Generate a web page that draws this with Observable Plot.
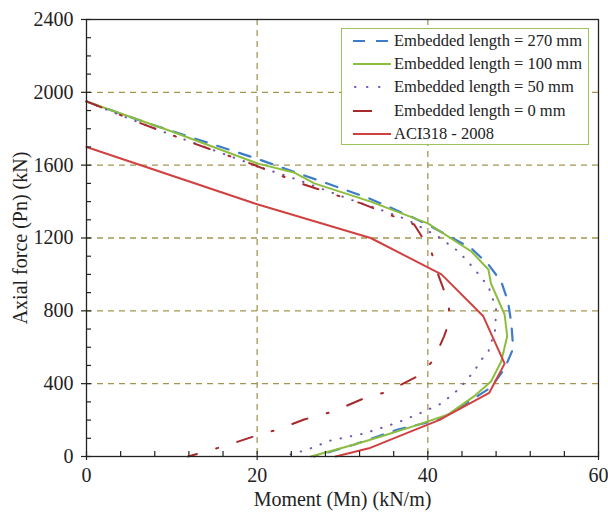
<!DOCTYPE html>
<html><head><meta charset="utf-8">
<script src="https://cdn.jsdelivr.net/npm/d3@7"></script>
<script src="https://cdn.jsdelivr.net/npm/@observablehq/plot@0.6"></script>
<style>
body{margin:0;background:#fff}
#chart{position:relative;width:608px;height:518px;font-family:"Liberation Serif","Times New Roman",Times,serif}
#legend{position:absolute;left:341px;top:28px;width:248px;height:117px;border:1.5px solid #9dc35c;background:#fff;box-sizing:border-box}
.row{height:23.3px;display:flex;align-items:center;font-size:16.5px;color:#222;white-space:nowrap}
.row svg{margin-left:11px;margin-right:3px}
</style>
</head><body><div id="chart"><div id="legend"></div></div>
<script>
// Embedded length = 270 mm
const m270 = [0, 7.2, 20, 33, 35, 38, 40.4, 45.1, 47.1, 48.6, 49.4, 49.8, 50.0, 49.0, 47.4, 45.4, 41.5, 36.5, 31.4, 26.7];
const p270 = [1950, 1830, 1635, 1420, 1380, 1318, 1263, 1143, 1054, 961, 851, 725, 593, 483, 380, 319, 205, 148, 66, 0];
// Embedded length = 100 mm
const m100 = [0, 10, 20, 24.3, 26.7, 33.3, 40, 45.1, 47.1, 47.4, 49.0, 49.3, 48.6, 47.4, 45.4, 42.4, 38.9, 34.5, 31.4, 26.3];
const p100 = [1950, 1785, 1610, 1560, 1500, 1400, 1280, 1126, 1027, 950, 780, 660, 522, 412, 330, 231, 175, 110, 66, 0];
// Embedded length = 50 mm
const m50 = [0, 3.6, 8.9, 16.7, 20.6, 24.5, 31, 33.7, 37.5, 41.2, 43.6, 45.4, 47.1, 48.0, 47.9, 47.1, 46.3, 45.4, 43.7, 41.6, 39.0, 36.5, 32.5, 28.6, 25.9, 23.1];
const p50 = [1950, 1881, 1785, 1651, 1585, 1524, 1410, 1368, 1302, 1208, 1126, 1033, 934, 813, 697, 577, 533, 467, 373, 291, 236, 187, 126, 88, 38, 0];
// Embedded length = 0 mm
const m0 = [0, 5.8, 12.6, 19.5, 25.1, 32.2, 38.4, 40.4, 41.2, 42.5, 42.4, 41.9, 40.7, 39.2, 35.3, 32.2, 28.9, 25.5, 22.4, 19.6, 16.0, 11.9];
const p0 = [1950, 1840, 1719, 1604, 1500, 1390, 1274, 1126, 1000, 835, 725, 660, 533, 450, 357, 313, 247, 203, 148, 110, 55, 0];
// ACI318-2008
const mAci = [0, 20, 33.3, 41.6, 46.5, 49.0, 47.2, 41.3, 33.1, 29.2];
const pAci = [1700, 1385, 1200, 1000, 770, 510, 350, 200, 45, 0];

const xTicks = [0, 20, 40, 60];
const yTicks = [0, 400, 800, 1200, 1600, 2000, 2400];
const xGrid = [20, 40];
const yGrid = [400, 800, 1200, 1600, 2000];
const xLabel = "Moment (Mn) (kN/m)";
const yLabel = "Axial force (Pn) (kN)";

const seriesNames = ["Embedded length = 270 mm", "Embedded length = 100 mm", "Embedded length = 50 mm", "Embedded length = 0 mm", "ACI318 - 2008"];
const seriesM = [m270, m100, m50, m0, mAci];
const seriesP = [p270, p100, p50, p0, pAci];
const styles = [
  {stroke: "#3d7cc9", strokeWidth: 2.2, strokeDasharray: "12,11"},
  {stroke: "#8dbd3f", strokeWidth: 2},
  {stroke: "#7453b0", strokeWidth: 2, strokeDasharray: "0.5,10", strokeLinecap: "round"},
  {stroke: "#a8282c", strokeWidth: 2, strokeDasharray: "16,20,2,20"},
  {stroke: "#d04141", strokeWidth: 2}
];

const FONT = "'Liberation Serif', 'Times New Roman', Times, serif";
const grid = {stroke: "#a39652", strokeOpacity: 1, strokeWidth: 1.3, strokeDasharray: "6,5"};
const lineMarks = seriesM.map((ms, i) =>
  Plot.line(ms.map((m, j) => ({m, p: seriesP[i][j]})), {x: "m", y: "p", ...styles[i]}));

const plot = Plot.plot({
  width: 608, height: 518,
  marginLeft: 86, marginRight: 10, marginTop: 19, marginBottom: 62,
  style: {fontFamily: FONT, fontSize: "20px", color: "#222", background: "#fff"},
  x: {domain: [0, 60]},
  y: {domain: [0, 2400]},
  marks: [
    Plot.gridY(yGrid, grid),
    Plot.gridX(xGrid, grid),
    ...lineMarks,
    Plot.axisX({ticks: d3.range(0, 61, 4), tickSize: -5, tickFormat: () => "", label: null, strokeWidth: 1.2}),
    Plot.axisX({ticks: xTicks, tickSize: 4, tickPadding: 7, tickFormat: d => String(d), label: null, fontSize: 20, strokeWidth: 1.2}),
    Plot.axisY({ticks: d3.range(0, 2401, 100), tickSize: -5, tickFormat: () => "", label: null, strokeWidth: 1.2}),
    Plot.axisY({ticks: yTicks, tickSize: 5, tickPadding: 8, tickFormat: d => String(d), label: null, fontSize: 20, strokeWidth: 1.2}),
    Plot.frame({stroke: "#222", strokeWidth: 1.3}),
    Plot.text([xLabel], {text: d => d, frameAnchor: "bottom", lineAnchor: "middle", textAnchor: "middle", dy: 43, fontSize: 20, fill: "#222"}),
    Plot.text([yLabel], {text: d => d, frameAnchor: "left", lineAnchor: "middle", textAnchor: "middle", dx: -66, rotate: -90, fontSize: 20, fill: "#222"})
  ]
});
plot.style.fontFamily = FONT;
document.getElementById("chart").insertBefore(plot, document.getElementById("legend"));

const legend = document.getElementById("legend");
seriesNames.forEach((name, i) => {
  const row = document.createElement("div");
  row.className = "row";
  const s = styles[i];
  const len = i === 3 ? 19 : 38;
  const dash = i === 3 ? "" : (s.strokeDasharray ? (i === 2 ? "0.5,11.5" : s.strokeDasharray) : "");
  row.innerHTML = `<svg width="38" height="10"><line x1="${i===2?2:0}" y1="5" x2="${len}" y2="5" stroke="${s.stroke}" stroke-width="${s.strokeWidth}" ${dash ? `stroke-dasharray="${dash}"` : ""} ${s.strokeLinecap ? `stroke-linecap="${s.strokeLinecap}"` : ""}/></svg><span>${name}</span>`;
  legend.appendChild(row);
});
</script>
</body></html>
